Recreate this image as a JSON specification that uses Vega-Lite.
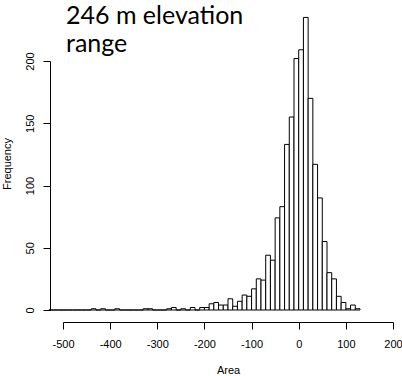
{
  "$schema": "https://vega.github.io/schema/vega-lite/v6.json",
  "autosize": {"type": "none"},
  "padding": {"left": 63, "top": 61, "right": 9, "bottom": 66},
  "width": 330,
  "height": 249,
  "background": "white",
  "title": {
    "text": ["246 m elevation", "range"],
    "anchor": "start",
    "frame": "group",
    "font": "Lato",
    "fontSize": 25,
    "fontWeight": "normal",
    "color": "black",
    "lineHeight": 28,
    "baseline": "alphabetic",
    "offset": -60,
    "dx": 3
  },
  "data": {
    "values": [
      {"start": -530, "end": -520, "count": 0},
      {"start": -520, "end": -510, "count": 0},
      {"start": -510, "end": -500, "count": 0},
      {"start": -500, "end": -490, "count": 0},
      {"start": -490, "end": -480, "count": 0},
      {"start": -480, "end": -470, "count": 0},
      {"start": -470, "end": -460, "count": 0},
      {"start": -460, "end": -450, "count": 0},
      {"start": -450, "end": -440, "count": 0},
      {"start": -440, "end": -430, "count": 1},
      {"start": -430, "end": -420, "count": 0},
      {"start": -420, "end": -410, "count": 1},
      {"start": -410, "end": -400, "count": 0},
      {"start": -400, "end": -390, "count": 0},
      {"start": -390, "end": -380, "count": 1},
      {"start": -380, "end": -370, "count": 0},
      {"start": -370, "end": -360, "count": 0},
      {"start": -360, "end": -350, "count": 0},
      {"start": -350, "end": -340, "count": 0},
      {"start": -340, "end": -330, "count": 0},
      {"start": -330, "end": -320, "count": 1},
      {"start": -320, "end": -310, "count": 1},
      {"start": -310, "end": -300, "count": 0},
      {"start": -300, "end": -290, "count": 0},
      {"start": -290, "end": -280, "count": 0},
      {"start": -280, "end": -270, "count": 1},
      {"start": -270, "end": -260, "count": 2},
      {"start": -260, "end": -250, "count": 0},
      {"start": -250, "end": -240, "count": 1},
      {"start": -240, "end": -230, "count": 0},
      {"start": -230, "end": -220, "count": 2},
      {"start": -220, "end": -210, "count": 0},
      {"start": -210, "end": -200, "count": 2},
      {"start": -200, "end": -190, "count": 2},
      {"start": -190, "end": -180, "count": 5},
      {"start": -180, "end": -170, "count": 6},
      {"start": -170, "end": -160, "count": 4},
      {"start": -160, "end": -150, "count": 4},
      {"start": -150, "end": -140, "count": 9},
      {"start": -140, "end": -130, "count": 3},
      {"start": -130, "end": -120, "count": 7},
      {"start": -120, "end": -110, "count": 12},
      {"start": -110, "end": -100, "count": 11},
      {"start": -100, "end": -90, "count": 17},
      {"start": -90, "end": -80, "count": 25},
      {"start": -80, "end": -70, "count": 24},
      {"start": -70, "end": -60, "count": 44},
      {"start": -60, "end": -50, "count": 40},
      {"start": -50, "end": -40, "count": 74},
      {"start": -40, "end": -30, "count": 83},
      {"start": -30, "end": -20, "count": 133},
      {"start": -20, "end": -10, "count": 155},
      {"start": -10, "end": 0, "count": 202},
      {"start": 0, "end": 10, "count": 209},
      {"start": 10, "end": 20, "count": 235},
      {"start": 20, "end": 30, "count": 170},
      {"start": 30, "end": 40, "count": 117},
      {"start": 40, "end": 50, "count": 90},
      {"start": 50, "end": 60, "count": 55},
      {"start": 60, "end": 70, "count": 30},
      {"start": 70, "end": 80, "count": 25},
      {"start": 80, "end": 90, "count": 11},
      {"start": 90, "end": 100, "count": 6},
      {"start": 100, "end": 110, "count": 1},
      {"start": 110, "end": 120, "count": 4},
      {"start": 120, "end": 130, "count": 1}
    ]
  },
  "mark": {"type": "rect", "fill": "white", "stroke": "black", "strokeWidth": 1, "clip": false},
  "encoding": {
    "x": {
      "field": "start",
      "type": "quantitative",
      "scale": {"domain": [-500, 200], "nice": false, "zero": false},
      "axis": {
        "values": [-500, -400, -300, -200, -100, 0, 100, 200],
        "labelExpr": "'' + datum.value",
        "offset": 12,
        "tickSize": 7,
        "labelPadding": 9,
        "labelFlush": false,
        "title": "Area",
        "titleY": 51,
        "titleBaseline": "alphabetic"
      }
    },
    "x2": {"field": "end"},
    "y": {
      "field": "count",
      "type": "quantitative",
      "scale": {"domain": [0, 200], "nice": false},
      "axis": {
        "values": [0, 50, 100, 150, 200],
        "offset": 13,
        "tickSize": 7,
        "labelAngle": -90,
        "labelPadding": 8,
        "title": "Frequency",
        "titleAngle": -90,
        "titleX": -40,
        "titleY": 102.5,
        "titleAlign": "center",
        "titleBaseline": "alphabetic"
      }
    },
    "y2": {"datum": 0}
  },
  "config": {
    "view": {"stroke": null},
    "axis": {
      "grid": false,
      "domainColor": "black",
      "tickColor": "black",
      "labelColor": "black",
      "titleColor": "black",
      "labelFont": "Liberation Sans",
      "titleFont": "Liberation Sans",
      "labelFontSize": 11,
      "titleFontSize": 11,
      "titleFontWeight": "normal",
      "domainWidth": 1,
      "tickWidth": 1
    }
  }
}
